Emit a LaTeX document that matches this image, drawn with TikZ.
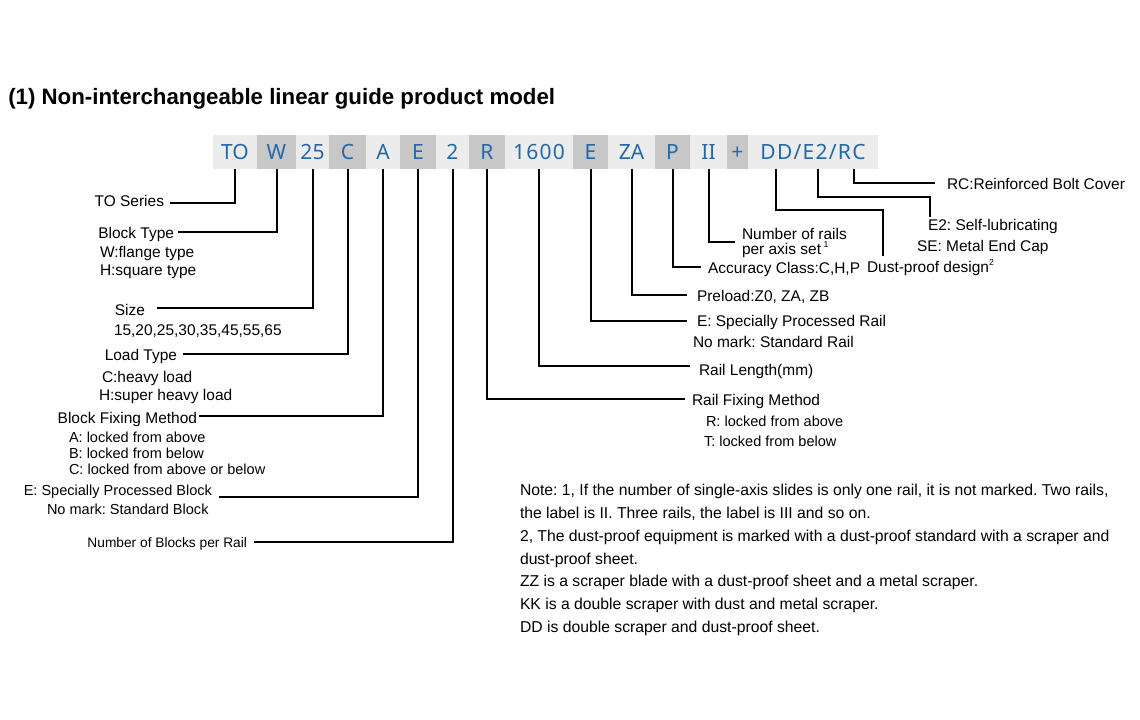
\documentclass[tikz,border=0pt]{standalone}
\usepackage{fontspec}
\setmainfont{Liberation Sans}
\newfontfamily\codefont{Noto Sans}
\newfontfamily\codefontw[LetterSpace=6]{Noto Sans}
\usetikzlibrary{calc}
\definecolor{codeblue}{RGB}{36,104,168}
\definecolor{celllight}{RGB}{236,236,236}
\definecolor{celldark}{RGB}{199,199,199}
\frenchspacing
\begin{document}
\begin{tikzpicture}[x=0.75pt,y=-0.75pt,
  cell/.style={minimum height=25.5pt, inner sep=0pt, outer sep=0pt, anchor=west,
    font=\codefont\fontsize{15.75}{16}\selectfont, text=codeblue, text height=11.2pt, text depth=0pt},
  wide/.style={font=\codefontw\fontsize{15.75}{16}\selectfont},
  light/.style={cell, fill=celllight},
  dark/.style={cell, fill=celldark},
  lab/.style={inner sep=0pt, outer sep=0pt, font=\fontsize{11.6}{13}\selectfont, text height=8.3pt, text depth=0pt},
  sub/.style={lab, font=\fontsize{10.9}{12}\selectfont, text height=7.8pt},
  note/.style={inner sep=0pt, outer sep=0pt, anchor=west, font=\fontsize{11.8}{13}\selectfont, text height=8.4pt, text depth=0pt},
  conn/.style={line width=1.5pt}
]
\useasboundingbox (0,0) rectangle (1140,720);

% title
\node[inner sep=0pt, anchor=west, font=\bfseries\fontsize{16.7}{18}\selectfont, text height=12pt, text depth=0pt] (title) at (8,97) {(1) Non-interchangeable linear guide product model};

% code bar
\node[light, minimum width={44*0.75pt}] (c1) at (213,152) {TO};
\node[dark,  minimum width={39*0.75pt}] (c2) at (c1.east) {W};
\node[light, minimum width={33*0.75pt}] (c3) at (c2.east) {25};
\node[dark,  minimum width={37*0.75pt}] (c4) at (c3.east) {C};
\node[light, minimum width={34*0.75pt}] (c5) at (c4.east) {A};
\node[dark,  minimum width={36*0.75pt}] (c6) at (c5.east) {E};
\node[light, minimum width={33*0.75pt}] (c7) at (c6.east) {2};
\node[dark,  minimum width={36*0.75pt}] (c8) at (c7.east) {R};
\node[light, wide, minimum width={68*0.75pt}] (c9) at (c8.east) {1600};
\node[dark,  minimum width={35*0.75pt}] (c10) at (c9.east) {E};
\node[light, minimum width={47*0.75pt}] (c11) at (c10.east) {ZA};
\node[dark,  minimum width={35*0.75pt}] (c12) at (c11.east) {P};
\node[light, minimum width={37*0.75pt}] (c13) at (c12.east) {II};
\node[dark,  minimum width={21*0.75pt}] (c14) at (c13.east) {+};
\node[light, wide, minimum width={130*0.75pt}] (c15) at (c14.east) {DD/E2/RC};
\coordinate (ddpt) at ($(c15.south west)+(28,0)$);
\coordinate (e2pt) at ($(c15.south west)+(70,0)$);
\coordinate (rcpt) at ($(c15.south west)+(106,0)$);

% left labels
\node[lab, anchor=east] (tos) at (164,201) {TO Series};
\node[lab, anchor=east] (bt) at (174,232.5) {Block Type};
\node[lab, anchor=west] (btw) at (100,251.5) {W:flange type};
\node[lab, anchor=west] (bth) at (100,270) {H:square type};
\node[lab, anchor=east] (size) at (145,309.5) {Size};
\node[lab, anchor=west] (sizes) at (114,330) {15,20,25,30,35,45,55,65};
\node[lab, anchor=east] (lt) at (177,355) {Load Type};
\node[lab, anchor=west] (ltc) at (102,377) {C:heavy load};
\node[lab, anchor=west] (lth) at (99,395) {H:super heavy load};
\node[lab, anchor=east] (bfm) at (197,417.5) {Block Fixing Method};
\node[sub, anchor=west] (bfa) at (69,437) {A: locked from above};
\node[sub, anchor=west] (bfb) at (69,453) {B: locked from below};
\node[sub, anchor=west] (bfc) at (69,469.5) {C: locked from above or below};
\node[sub, anchor=east] (epb) at (212,490) {E: Specially Processed Block};
\node[sub, anchor=west] (nmb) at (47,509.5) {No mark: Standard Block};
\node[sub, anchor=east, font=\fontsize{10.3}{12}\selectfont, text height=7.4pt] (nbr) at (247,542.5) {Number of Blocks per Rail};

% right labels
\node[lab, anchor=west] (rc) at (947,184) {RC:Reinforced Bolt Cover};
\node[lab, anchor=west] (e2l) at (928,225) {E2: Self-lubricating};
\node[lab, anchor=west] (sel) at (917,246) {SE: Metal End Cap};
\node[lab, anchor=west] (dpd) at (867,267) {Dust-proof design\raisebox{0.45em}{\fontsize{6.5}{7}\selectfont 2}};
\node[lab, anchor=west] (nr1) at (742,233.5) {Number of rails};
\node[lab, anchor=west] (nr2) at (742,249) {per axis set\,\raisebox{0.45em}{\fontsize{6.5}{7}\selectfont 1}};
\node[lab, anchor=west] (acc) at (708,268) {Accuracy Class:C,H,P};
\node[lab, anchor=west] (pre) at (697,296) {Preload:Z0, ZA, ZB};
\node[lab, anchor=west] (espr) at (697,321) {E: Specially Processed Rail};
\node[lab, anchor=west] (nmr) at (693,342) {No mark: Standard Rail};
\node[lab, anchor=west] (rl) at (699,369.5) {Rail Length(mm)};
\node[lab, anchor=west] (rfm) at (692,399.5) {Rail Fixing Method};
\node[sub, anchor=west] (rfr) at (706,421) {R: locked from above};
\node[sub, anchor=west] (rft) at (704,441) {T: locked from below};

\coordinate (e2c) at (930,197);
\coordinate (ddc) at (883,210);

% connectors left
\draw[conn] (c1.south) |- ($(tos.east)+(6,2)$);
\draw[conn] (c2.south) |- ($(bt.east)+(4,0)$);
\draw[conn] (c3.south) |- ($(size.east)+(12,-1.5)$);
\draw[conn] (c4.south) |- ($(lt.east)+(6,-1)$);
\draw[conn] (c5.south) |- ($(bfm.east)+(2,-1.5)$);
\draw[conn] (c6.south) |- ($(epb.east)+(7,7)$);
\draw[conn] (c7.south) |- ($(nbr.east)+(7,-0.5)$);
% connectors right
\draw[conn] (c8.south) |- ($(rfm.west)+(-7,0)$);
\draw[conn] (c9.south) |- ($(rl.west)+(-9,-3)$);
\draw[conn] (c10.south) |- ($(espr.west)+(-10,0.5)$);
\draw[conn] (c11.south) |- ($(pre.west)+(-10,-1)$);
\draw[conn] (c12.south) |- ($(acc.west)+(-7,-1)$);
\draw[conn] (c13.south) |- ($($(nr1.west)!0.5!(nr2.west)$)+(-7,0.8)$);
\draw[conn] (ddpt) |- (ddc) -- ($(ddc |- dpd.north)+(0,-5)$);
\draw[conn] (e2pt) |- (e2c) -- ($(e2c |- e2l.north)+(0,-2)$);
\draw[conn] (rcpt) |- ($(rc.west)+(-12,-1)$);

% notes
\node[note] (n1) at (520,490) {Note: 1, If the number of single-axis slides is only one rail, it is not marked. Two rails,};
\node[note] (n2) at (520,512.8) {the label is II. Three rails, the label is III and so on.};
\node[note] (n3) at (520,535.6) {2, The dust-proof equipment is marked with a dust-proof standard with a scraper and};
\node[note] (n4) at (520,558.4) {dust-proof sheet.};
\node[note] (n5) at (520,581.2) {ZZ is a scraper blade with a dust-proof sheet and a metal scraper.};
\node[note] (n6) at (520,604) {KK is a double scraper with dust and metal scraper.};
\node[note] (n7) at (520,626.8) {DD is double scraper and dust-proof sheet.};
\end{tikzpicture}
\end{document}
